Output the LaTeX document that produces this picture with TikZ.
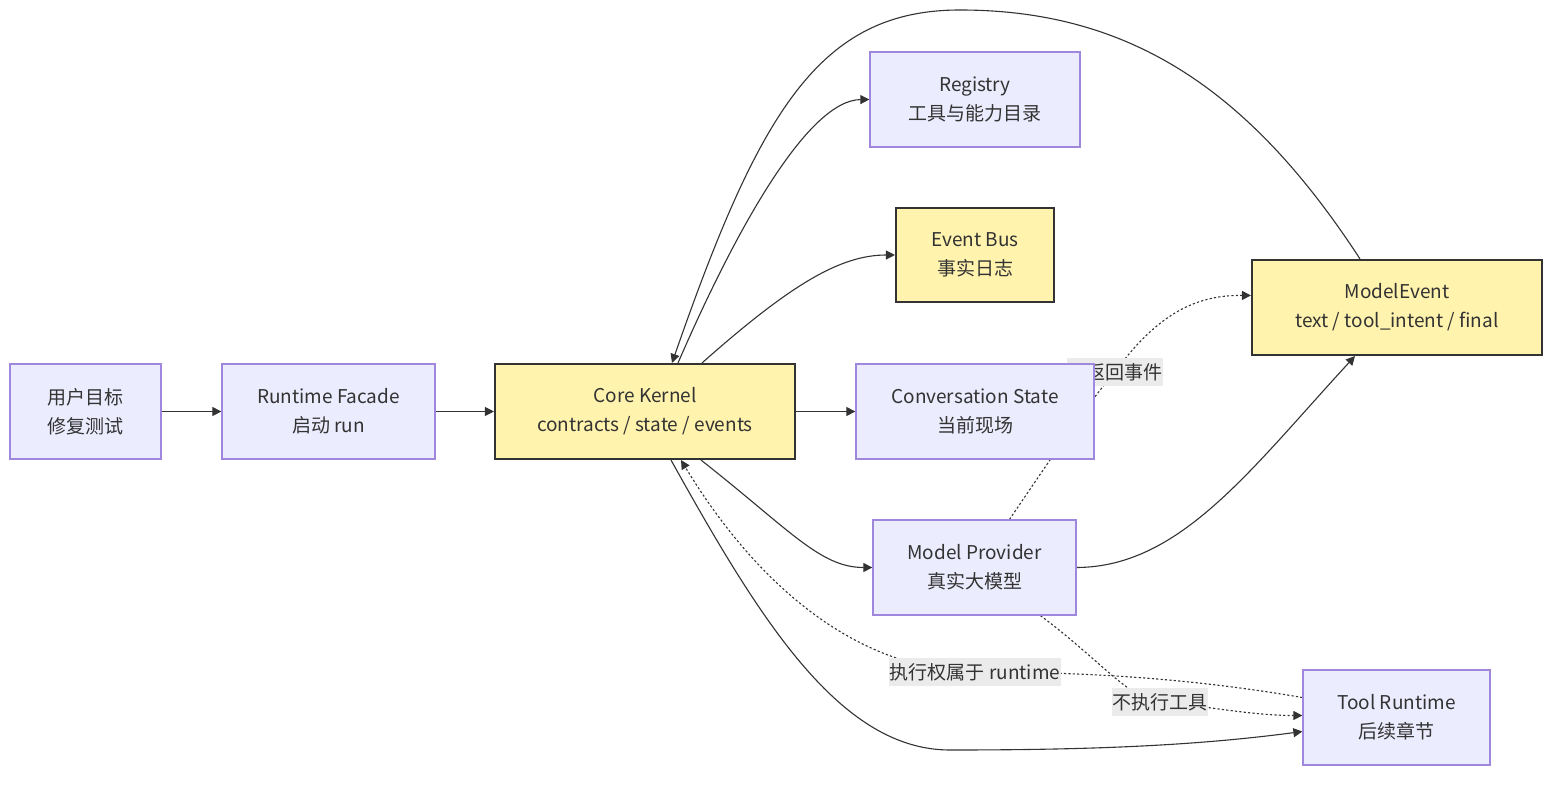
\documentclass[tikz,border=0pt]{standalone}
\usepackage{fontspec}
\setmainfont{Noto Sans CJK SC}
\usepackage{tikz}
\usetikzlibrary{arrows.meta}
\definecolor{lilac}{HTML}{ECECFF}
\definecolor{lilacline}{HTML}{9F87DE}
\definecolor{paleyellow}{HTML}{FFF3AE}
\definecolor{ink}{HTML}{333333}
\definecolor{labelgray}{HTML}{EBEBEB}
\pgfdeclarelayer{bg}
\pgfdeclarelayer{edges}
\pgfsetlayers{bg,edges,main}

\begin{document}
\begin{tikzpicture}[
    x=1pt, y=-1pt,
    every node/.style={font=\fontsize{19}{29}\selectfont, text=ink},
    comp/.style={draw=lilacline, line width=1.3pt, fill=lilac, minimum height=95pt, align=center, inner sep=0pt},
    core/.style={draw=ink, line width=2.1pt, fill=paleyellow, minimum height=95pt, align=center, inner sep=0pt},
    flow/.style={-{Triangle[length=9pt,width=9pt]}, line width=1.1pt, draw=ink},
    weak/.style={flow, dash pattern=on 2.2pt off 2.2pt},
    elabel/.style={fill=labelgray, inner xsep=0.5pt, inner ysep=5pt, font=\fontsize{19}{22}\selectfont}
]
\useasboundingbox (0,0) rectangle (1568,784);
\begin{pgfonlayer}{bg}
\fill[white] (0,0) rectangle (1568,784);
\end{pgfonlayer}

\node[comp, minimum width=151pt] (goal) at (85.5,411.5) {用户目标\\修复测试};
\node[comp, minimum width=213pt] (facade) at (328.5,411.5) {Runtime Facade\\启动 run};
\node[core, minimum width=300pt] (kernel) at (645,411.5) {Core Kernel\\contracts / state / events};
\node[comp, minimum width=210pt] (registry) at (975,99.5) {Registry\\工具与能力目录};
\node[core, minimum width=158pt, minimum height=94pt] (bus) at (975,255) {Event Bus\\事实日志};
\node[comp, minimum width=238pt] (state) at (975,411.5) {Conversation State\\当前现场};
\node[comp, minimum width=203pt] (provider) at (974.5,567.5) {Model Provider\\真实大模型};
\node[core, minimum width=290pt] (mevent) at (1397,307.5) {ModelEvent\\text / tool\_intent / final};
\node[comp, minimum width=187pt] (toolrt) at (1396.5,717.5) {Tool Runtime\\后续章节};

\begin{pgfonlayer}{edges}
\draw[flow] (goal) -- (facade);
\draw[flow] (facade) -- (kernel);
\draw[flow] (kernel) -- (state);
\draw[flow] ([xshift=33pt]kernel.north) .. controls (740,220) and (810,100) .. (registry.west);
\draw[flow] ([xshift=57pt]kernel.north) .. controls (790,285) and (840,255) .. (bus.west);
\draw[flow] ([xshift=56pt]kernel.south) .. controls (790,530) and (820,567.5) .. (provider.west);
\draw[flow] ([xshift=26pt]kernel.south) .. controls (760,620) and (840,750) .. (950,750) .. controls (1100,750) and (1200,745) .. ([yshift=-14pt]toolrt.west);
\draw[flow] (provider.east) .. controls (1180,567) and (1250,470) .. ([xshift=-42pt]mevent.south);
\draw[flow] ([xshift=-37pt]mevent.north) .. controls (1250,90) and (1130,10) .. (960,10) .. controls (820,10) and (760,110) .. ([xshift=27pt]kernel.north);
% dotted edges with their labels
\draw[weak] ([xshift=35pt]provider.north) .. controls (1050,460) and (1090,400) .. (1115,372) node[elabel] {只返回事件} .. controls (1160,310) and (1200,295) .. ([yshift=12pt]mevent.west);
\draw[weak] ([xshift=66pt]provider.south) .. controls (1100,660) and (1130,700) .. (1160,702) node[elabel] {不执行工具} .. controls (1200,705) and (1250,715.5) .. ([yshift=2pt]toolrt.west);
\draw[weak] ([yshift=20pt]toolrt.west) .. controls (1200,680) and (1100,672) .. (975,672) node[elabel] {执行权属于 runtime} .. controls (860,670) and (760,590) .. ([xshift=36pt]kernel.south);
\end{pgfonlayer}
\end{tikzpicture}
\end{document}
